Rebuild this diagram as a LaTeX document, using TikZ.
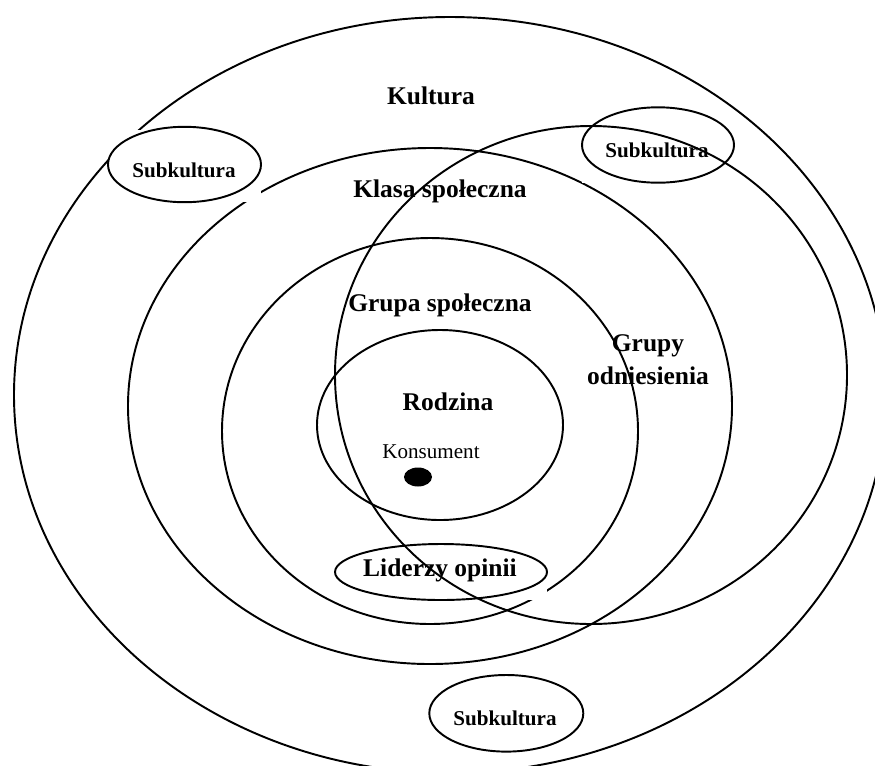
\documentclass[tikz,border=0pt]{standalone}
\usepackage{fontspec}
\setmainfont{Liberation Serif}
\tikzset{
  kreis/.style={line width=1.1pt},
  gross/.style={font=\fontsize{14.5}{18.7}\selectfont\bfseries, align=center, inner sep=0pt},
  klein/.style={font=\fontsize{12}{14}\selectfont\bfseries, inner sep=0pt},
  zart/.style={font=\fontsize{12}{14}\selectfont, inner sep=0pt}
}
\begin{document}
\begin{tikzpicture}[x=0.02cm,y=-0.02cm]
  % Rahmen des Bildes
  \clip (0,0) rectangle (875,765);
  % die Kreise: Kultura, Klasa, Grupa, Rodzina
  \draw[kreis] (450,395) ellipse (436 and 378);
  \draw[kreis] (430,406) ellipse (302 and 258);
  \draw[kreis] (430,431) ellipse (208 and 193);
  \draw[kreis] (440,425) ellipse (123 and 95);
  % Konsument (Punkt)
  \fill (418,477) ellipse (14 and 9.5);
  % weisse Rahmen mit Ellipsen (Subkultura, Liderzy)
  \foreach \x/\y/\a/\b in {184.5/164.5/76.5/37.7, 658/145/76/37.7, 506.3/713.3/77/38.3, 441/572/106/28}
  {
    \fill[white] (\x-\a,\y-\b+3) rectangle (\x+\a,\y+\b);
    \draw[kreis] (\x,\y) ellipse [x radius=\a, y radius=\b];
  }
  % Grupy odniesienia
  \draw[kreis] (591,375) ellipse (256 and 249);
  % Beschriftung
  \node[gross] (kultura) at (431,96) {Kultura};
  \node[gross] (klasa) at (440,191) {Klasa społeczna};
  \node[gross] (grupa) at (440,305) {Grupa społeczna};
  \node[gross] (rodzina) at (448,402) {Rodzina};
  \node[gross] (odniesienie) at (648,360) {Grupy\\odniesienia};
  \node[gross] (liderzy) at (440,570) {Liderzy opinii};
  \node[zart] (konsument) at (431,452) {Konsument};
  \node[klein] (subLO) at (184,170) {Subkultura};
  \node[klein] (subRO) at (657,150) {Subkultura};
  \node[klein] (subU) at (505,718) {Subkultura};
\end{tikzpicture}
\end{document}
